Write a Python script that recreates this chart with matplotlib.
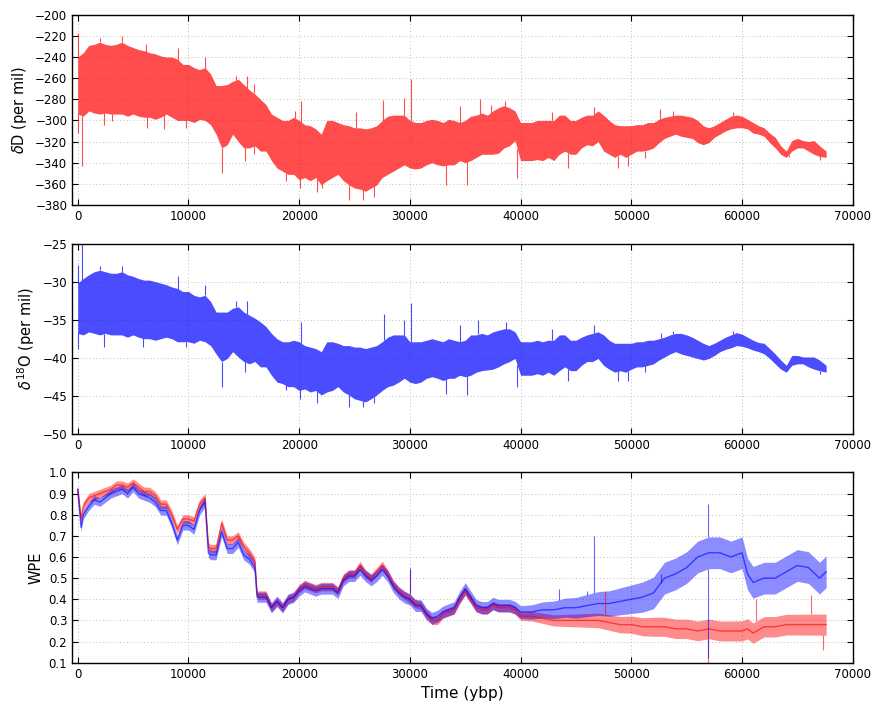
import matplotlib
matplotlib.use("Agg")
import matplotlib.pyplot as plt
import numpy as np

# sample times (years before present) for the isotope envelopes
years = list(range(0, 67001, 500)) + [67600]

# deltaD (per mil): upper / lower edge of the noisy band
dD_upper = [-240, -236, -229, -228, -226, -228, -229, -228, -226, -229,
            -231, -233, -234, -236, -237, -239, -240, -240, -242, -247,
            -247, -250, -252, -250, -256, -267, -267, -266, -263, -261,
            -266, -271, -275, -280, -285, -294, -297, -300, -300, -297,
            -300, -304, -305, -308, -313, -300, -300, -302, -304, -305,
            -307, -307, -308, -307, -305, -300, -296, -295, -295, -295,
            -300, -302, -302, -300, -299, -300, -302, -299, -300, -302,
            -300, -296, -295, -293, -295, -291, -288, -286, -288, -291,
            -302, -302, -302, -300, -300, -300, -300, -295, -295, -300,
            -300, -297, -295, -295, -291, -295, -300, -304, -305, -305,
            -305, -304, -304, -302, -302, -299, -297, -296, -295, -295,
            -296, -297, -300, -305, -307, -305, -302, -299, -296, -295,
            -296, -299, -302, -305, -307, -312, -316, -324, -329, -319,
            -317, -319, -320, -319, -324, -329]
dD_lower = [-294, -296, -291, -293, -294, -293, -294, -294, -294, -296,
            -294, -296, -297, -297, -299, -297, -294, -297, -300, -300,
            -300, -302, -299, -300, -304, -313, -326, -323, -313, -320,
            -326, -326, -324, -329, -329, -338, -345, -348, -351, -351,
            -356, -354, -357, -354, -361, -357, -354, -351, -357, -361,
            -364, -365, -367, -364, -361, -354, -351, -348, -345, -342,
            -345, -346, -345, -342, -340, -342, -343, -342, -342, -338,
            -340, -338, -335, -332, -332, -332, -331, -326, -324, -319,
            -338, -338, -338, -337, -338, -335, -338, -332, -329, -332,
            -332, -326, -323, -324, -320, -329, -332, -335, -332, -335,
            -332, -329, -329, -328, -326, -321, -317, -315, -313, -315,
            -316, -317, -321, -323, -321, -316, -313, -310, -308, -307,
            -307, -308, -312, -313, -315, -321, -326, -332, -335, -329,
            -326, -326, -329, -332, -334, -335]
dD_spike_t = [0, 2000, 4000, 6200, 9100, 11500, 14300, 15300, 15900, 19600,
              20200, 25100, 27600, 29500, 30100, 34500, 36300, 37300, 38600,
              42800, 46600, 52600, 53800, 59200,
              0, 350, 2400, 3100, 6300, 7800, 9800, 13000, 15100, 15900,
              18800, 20100, 21600, 22100, 24500, 25800, 26800, 33300, 35200,
              39700, 44300, 48800, 49700, 51200, 64200, 67000]
dD_spike_v = [-217, -222, -220, -228, -231, -240, -258, -258, -266, -291,
              -282, -292, -281, -279, -261, -286, -280, -285, -282,
              -292, -287, -289, -291, -292,
              -312, -343, -304, -301, -307, -308, -307, -350, -338, -332,
              -357, -364, -368, -364, -375, -375, -372, -361, -361,
              -354, -345, -345, -343, -336, -335, -337]

# delta18O (per mil)
d18O_upper = [-30.2, -29.6, -29.1, -28.7, -28.5, -28.7, -28.9, -28.9, -28.7, -29.1,
              -29.3, -29.6, -29.8, -29.8, -30.0, -30.2, -30.4, -30.7, -30.9, -31.3,
              -31.3, -31.8, -32.0, -31.8, -32.6, -34.0, -34.0, -34.0, -33.5, -33.3,
              -34.0, -34.4, -34.8, -35.3, -35.9, -36.8, -37.5, -37.9, -37.9, -37.7,
              -37.9, -38.4, -38.6, -38.8, -39.2, -37.9, -37.9, -38.1, -38.4, -38.4,
              -38.6, -38.6, -38.8, -38.6, -38.4, -37.9, -37.3, -37.0, -37.0, -37.0,
              -37.9, -37.9, -37.9, -37.7, -37.5, -37.7, -37.9, -37.5, -37.7, -37.9,
              -37.7, -37.0, -37.0, -36.8, -37.0, -36.6, -36.4, -36.2, -36.2, -36.6,
              -37.9, -37.9, -37.9, -37.7, -37.9, -37.7, -37.7, -37.0, -37.0, -37.7,
              -37.7, -37.3, -37.0, -36.8, -36.6, -37.0, -37.7, -38.1, -38.1, -38.1,
              -38.1, -37.9, -37.9, -37.7, -37.7, -37.5, -37.3, -37.0, -36.8, -36.8,
              -37.0, -37.3, -37.7, -38.1, -38.4, -38.1, -37.7, -37.3, -37.0, -36.7,
              -36.9, -37.3, -37.7, -38.0, -38.1, -38.8, -39.5, -40.3, -41.0, -39.7,
              -39.7, -39.9, -39.9, -39.9, -40.3, -41.0]
d18O_lower = [-36.8, -37.0, -36.6, -36.8, -37.0, -36.8, -37.0, -37.0, -37.0, -37.3,
              -37.0, -37.3, -37.5, -37.5, -37.7, -37.5, -37.3, -37.5, -37.9, -37.9,
              -37.9, -38.1, -37.7, -37.9, -38.4, -39.5, -40.5, -40.1, -39.2, -39.9,
              -40.5, -40.8, -40.5, -41.2, -41.2, -42.3, -43.2, -43.4, -43.8, -43.8,
              -44.3, -44.1, -44.5, -44.3, -44.9, -44.5, -44.3, -43.8, -44.5, -44.9,
              -45.4, -45.6, -45.8, -45.4, -44.9, -44.3, -43.8, -43.6, -43.2, -42.7,
              -43.2, -43.4, -43.2, -42.7, -42.5, -42.7, -43.0, -42.7, -42.7, -42.3,
              -42.5, -42.3, -41.9, -41.7, -41.6, -41.5, -41.2, -40.8, -40.5, -40.1,
              -42.3, -42.3, -42.3, -42.1, -42.3, -41.9, -42.3, -41.7, -41.2, -41.7,
              -41.7, -41.0, -40.5, -40.5, -40.1, -41.0, -41.5, -41.9, -41.7, -41.9,
              -41.5, -41.2, -41.2, -41.0, -40.8, -40.3, -39.9, -39.5, -39.2, -39.5,
              -39.7, -39.9, -40.1, -40.3, -40.1, -39.7, -39.2, -38.9, -38.7, -38.4,
              -38.5, -38.7, -39.0, -39.2, -39.5, -40.1, -40.8, -41.5, -41.9, -41.0,
              -40.8, -40.8, -41.2, -41.5, -41.7, -41.9]
d18O_spike_t = [0, 400, 2000, 4000, 9100, 11500, 14300, 15300, 20200,
                27700, 29500, 30100, 34500, 36200, 38700, 42800,
                46600, 52700, 53800, 59200,
                0, 2400, 5900, 9800, 13000, 15100, 18800, 20100, 21600,
                24500, 25800, 26800, 33300, 35200, 39700, 44300,
                48800, 49700, 51200, 67000]
d18O_spike_v = [-27.8, -25.0, -28.0, -28.0, -29.3, -30.4, -32.6, -32.6, -35.3,
                -34.3, -35.1, -32.8, -35.7, -35.1, -35.3, -36.2,
                -35.7, -36.7, -36.5, -36.5,
                -38.8, -38.6, -38.6, -38.6, -43.8, -41.9, -44.3, -45.4, -46.0,
                -46.5, -46.5, -46.0, -44.7, -44.9, -43.8, -43.1,
                -43.1, -43.0, -41.9, -42.1]

# weighted permutation entropy
wpe_years = [0, 300, 500, 1000, 1500, 2000, 2500, 3000, 3500, 4000, 4500, 5000,
             5500, 6000, 6500, 7000, 7500, 8000, 8500, 9000, 9500, 10000, 10500,
             11000, 11500, 11800, 12000, 12500, 13000, 13500, 14000, 14500, 15000,
             15500, 16000, 16200, 16500, 17000, 17500, 18000, 18500, 19000, 19500,
             20000, 20500, 21000, 21500, 22000, 22500, 23000, 23500, 24000, 24500,
             25000, 25500, 26000, 26500, 27000, 27500, 28000, 28500, 29000, 29500,
             30000, 30500, 31000, 31500, 32000, 32500, 33000, 33500, 34000, 34500,
             35000, 35500, 36000, 36500, 37000, 37500, 38000, 38500, 39000, 39500,
             40000, 41000, 42000, 43000, 44000, 45000, 46000, 47000, 48000, 49000,
             50000, 51000, 52000, 53000, 54000, 55000, 56000, 57000, 58000, 59000,
             60000, 60500, 61000, 62000, 63000, 64000, 65000, 66000, 67000, 67600]
wpe_dD = [0.92, 0.78, 0.84, 0.88, 0.89, 0.90, 0.91, 0.92, 0.94, 0.94, 0.93, 0.95,
          0.93, 0.91, 0.91, 0.89, 0.85, 0.85, 0.80, 0.73, 0.78, 0.78, 0.77,
          0.85, 0.88, 0.65, 0.64, 0.64, 0.76, 0.68, 0.68, 0.70, 0.65,
          0.62, 0.58, 0.42, 0.42, 0.42, 0.36, 0.39, 0.36, 0.40, 0.41,
          0.45, 0.47, 0.46, 0.45, 0.46, 0.46, 0.46, 0.44, 0.50, 0.52,
          0.52, 0.56, 0.52, 0.50, 0.53, 0.56, 0.52, 0.47, 0.44, 0.42,
          0.40, 0.38, 0.37, 0.33, 0.30, 0.30, 0.33, 0.34, 0.35, 0.40,
          0.44, 0.40, 0.36, 0.35, 0.35, 0.37, 0.36, 0.36, 0.36, 0.35,
          0.32, 0.32, 0.31, 0.30, 0.30, 0.30, 0.30, 0.30, 0.29, 0.28,
          0.28, 0.27, 0.27, 0.27, 0.26, 0.26, 0.25, 0.26, 0.25, 0.25,
          0.25, 0.26, 0.24, 0.27, 0.27, 0.28, 0.28, 0.28, 0.28, 0.28]
wpe_d18O = [0.92, 0.74, 0.80, 0.84, 0.87, 0.86, 0.88, 0.90, 0.91, 0.92, 0.90, 0.93,
            0.90, 0.89, 0.88, 0.86, 0.82, 0.82, 0.76, 0.68, 0.75, 0.75, 0.73,
            0.82, 0.86, 0.62, 0.61, 0.61, 0.72, 0.64, 0.64, 0.67, 0.61,
            0.59, 0.55, 0.41, 0.41, 0.41, 0.36, 0.39, 0.36, 0.40, 0.41,
            0.44, 0.46, 0.45, 0.44, 0.45, 0.45, 0.45, 0.43, 0.49, 0.51,
            0.51, 0.54, 0.51, 0.49, 0.51, 0.54, 0.51, 0.46, 0.43, 0.41,
            0.40, 0.37, 0.37, 0.33, 0.31, 0.32, 0.34, 0.35, 0.36, 0.41,
            0.45, 0.41, 0.37, 0.36, 0.36, 0.38, 0.37, 0.37, 0.37, 0.36,
            0.34, 0.34, 0.35, 0.35, 0.36, 0.36, 0.37, 0.38, 0.38, 0.39,
            0.40, 0.41, 0.43, 0.50, 0.52, 0.55, 0.60, 0.62, 0.62, 0.60,
            0.62, 0.52, 0.48, 0.50, 0.50, 0.53, 0.56, 0.55, 0.50, 0.53]
# half-width of the jitter around each WPE curve
amp_years = [0, 40000, 52000, 67600]
amp_dD = [0.02, 0.02, 0.045, 0.05]
amp_d18O = [0.02, 0.03, 0.075, 0.075]
wpe_dD_spike_t = [30000, 47600, 56900, 61300, 66200, 67300]
wpe_dD_spike_v = [0.54, 0.44, 0.08, 0.40, 0.42, 0.16]
wpe_d18O_spike_t = [30000, 43500, 46000, 46600, 52700, 56900, 56900]
wpe_d18O_spike_v = [0.55, 0.45, 0.44, 0.70, 0.52, 0.85, 0.12]

RED = (1, 0, 0)
BLUE = (0, 0, 1)

fig = plt.figure(figsize=(8.8, 7.02), dpi=100)
fig.patch.set_facecolor('white')
L, W, H = 0.082, 0.887, 0.271
ax1 = fig.add_axes([L, 0.708, W, H])
ax2 = fig.add_axes([L, 0.382, W, H])
ax3 = fig.add_axes([L, 0.056, W, H])


def spikes(ax, t, v, up, low, yrs, color, alpha, lw=0.8):
    # each spike starts at the band edge it sticks out of
    top = np.interp(t, yrs, up)
    bot = np.interp(t, yrs, low)
    v = np.asarray(v, dtype=float)
    base = np.where(v > top, top, np.where(v < bot, bot, (top + bot) / 2))
    ax.vlines(t, base, v, color=color, alpha=alpha, lw=lw)


ax1.fill_between(years, dD_lower, dD_upper, color=RED, alpha=0.7, lw=0)
spikes(ax1, dD_spike_t, dD_spike_v, dD_upper, dD_lower, years, RED, 0.7)
ax2.fill_between(years, d18O_lower, d18O_upper, color=BLUE, alpha=0.7, lw=0)
spikes(ax2, d18O_spike_t, d18O_spike_v, d18O_upper, d18O_lower, years, BLUE, 0.7)

a_r = np.interp(wpe_years, amp_years, amp_dD)
a_b = np.interp(wpe_years, amp_years, amp_d18O)
r = np.array(wpe_dD)
b = np.array(wpe_d18O)
ax3.fill_between(wpe_years, r - a_r, r + a_r, color=RED, alpha=0.45, lw=0)
ax3.plot(wpe_years, r, color=RED, alpha=0.6, lw=1)
ax3.fill_between(wpe_years, b - a_b, b + a_b, color=BLUE, alpha=0.45, lw=0)
ax3.plot(wpe_years, b, color=BLUE, alpha=0.6, lw=1)
spikes(ax3, wpe_dD_spike_t, wpe_dD_spike_v, r + a_r, r - a_r, wpe_years, RED, 0.6)
spikes(ax3, wpe_d18O_spike_t, wpe_d18O_spike_v, b + a_b, b - a_b, wpe_years, BLUE, 0.6)

ax1.set_ylim(-380, -200)
ax1.set_yticks(np.arange(-380, -199, 20))
ax2.set_ylim(-50, -25)
ax2.set_yticks(np.arange(-50, -24, 5))
ax3.set_ylim(0.1, 1.0)
ax3.set_yticks(np.arange(0.1, 1.01, 0.1))

ax1.set_ylabel(r'$\delta$D (per mil)', fontsize=10.5)
ax2.set_ylabel(r'$\delta^{18}$O (per mil)', fontsize=10.5)
ax3.set_ylabel('WPE', fontsize=10.5)
ax3.set_xlabel('Time (ybp)', fontsize=11)

for ax in (ax1, ax2, ax3):
    ax.set_xlim(-500, 70000)
    ax.set_xticks(np.arange(0, 70001, 10000))
    ax.grid(True, color='0.75', linestyle=(0, (1, 2.5)), linewidth=0.7)
    ax.set_axisbelow(True)
    ax.tick_params(direction='in', top=True, right=True, labelsize=8.5, length=4)
    for s in ax.spines.values():
        s.set_linewidth(1.0)

fig.savefig('out.png', dpi=100, facecolor='white')
